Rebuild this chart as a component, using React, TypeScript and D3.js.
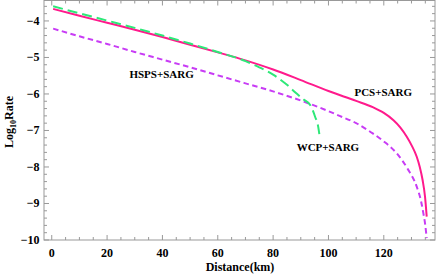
import React from "react";
import * as d3 from "d3";

const xTicks = [0, 20, 40, 60, 80, 100, 120];
const yTicks = [-10, -9, -8, -7, -6, -5, -4];

const pcsX = [0.5, 10, 20, 30, 40, 50, 60, 70, 80, 90, 100, 110, 116, 120, 123.5, 126, 128.3, 130, 131.9, 133, 134, 134.9, 135.5];
const pcsY = [-3.67, -3.86, -4.05, -4.24, -4.44, -4.65, -4.86, -5.08, -5.33, -5.62, -5.92, -6.19, -6.36, -6.52, -6.72, -6.92, -7.17, -7.4, -7.72, -8.0, -8.35, -8.82, -9.36];

const wcpX = [0.5, 10, 20, 30, 40, 50, 60, 70, 80, 90, 100, 104, 110, 116, 120, 124.7, 128.6, 131.9, 133.5, 134.3, 135, 135.5];
const wcpY = [-4.21, -4.42, -4.63, -4.85, -5.06, -5.27, -5.49, -5.71, -5.93, -6.18, -6.47, -6.6, -6.8, -7.08, -7.3, -7.63, -8.05, -8.54, -8.95, -9.27, -9.6, -9.95];

const hspsX = [0.5, 10, 20, 30, 40, 50, 60, 70, 75, 80, 85, 88.5, 91, 93.4, 95.2, 96.3, 96.7];
const hspsY = [-3.6, -3.79, -3.99, -4.19, -4.4, -4.62, -4.85, -5.1, -5.27, -5.47, -5.75, -5.99, -6.15, -6.3, -6.63, -6.9, -7.1];

const labels = [
  { text: "HSPS+SARG", x: 39.7, y: -5.5 },
  { text: "PCS+SARG", x: 119.8, y: -5.98 },
  { text: "WCP+SARG", x: 99.8, y: -7.5 },
];

const W = 436;
const H = 277;
const L = 44, R = 435, T = 0.5, B = 240;

export default function App() {
  const x = d3.scaleLinear().domain([-2.8, 138.5]).range([L, R]);
  const y = d3.scaleLinear().domain([-10, -3.44]).range([B, T]);
  const line = d3.line<[number, number]>().x(d => x(d[0])).y(d => y(d[1])).curve(d3.curveMonotoneX);
  const mk = (xs: number[], ys: number[]) => line(xs.map((v, i) => [v, ys[i]] as [number, number])) || "";

  const xMinor = d3.range(0, 136, 5).filter(v => v % 20 !== 0);
  const yMinor = d3.range(-10, -3.45, 0.2).map(v => Math.round(v * 10) / 10).filter(v => Math.abs(v - Math.round(v)) > 0.01);
  const frame = "#999999";
  const font = "'Liberation Serif', 'Times New Roman', serif";

  return (
    <svg width={W} height={H} style={{ position: "absolute", left: 0, top: 0, background: "#fff" }} fontFamily={font}>
      <defs>
        <clipPath id="clip">
          <rect x={L} y={T} width={R - L} height={B - T} />
        </clipPath>
      </defs>
      <g clipPath="url(#clip)" fill="none" strokeWidth={2}>
        <path d={mk(wcpX, wcpY)} stroke="#c83cf5" strokeDasharray="5.5,3.5" />
        <path d={mk(pcsX, pcsY)} stroke="#ff1a8c" />
        <path d={mk(hspsX, hspsY)} stroke="#2ee878" strokeDasharray="10,5" />
      </g>
      <rect x={L} y={T} width={R - L} height={B - T} fill="none" stroke={frame} strokeWidth={1} />
      <g stroke={frame} strokeWidth={1}>
        {xTicks.map(t => (
          <g key={"xt" + t}>
            <line x1={x(t)} x2={x(t)} y1={B} y2={B - 5} />
            <line x1={x(t)} x2={x(t)} y1={T} y2={T + 5} />
          </g>
        ))}
        {xMinor.map(t => (
          <g key={"xm" + t}>
            <line x1={x(t)} x2={x(t)} y1={B} y2={B - 3} />
            <line x1={x(t)} x2={x(t)} y1={T} y2={T + 3} />
          </g>
        ))}
        {yTicks.map(t => (
          <g key={"yt" + t}>
            <line x1={L} x2={L + 5} y1={y(t)} y2={y(t)} />
            <line x1={R} x2={R - 5} y1={y(t)} y2={y(t)} />
          </g>
        ))}
        {yMinor.map(t => (
          <g key={"ym" + t}>
            <line x1={L} x2={L + 3} y1={y(t)} y2={y(t)} />
            <line x1={R} x2={R - 3} y1={y(t)} y2={y(t)} />
          </g>
        ))}
      </g>
      <g fontSize={12} fontWeight="bold" fill="#000">
        {xTicks.map(t => (
          <text key={"xl" + t} x={x(t)} y={257} textAnchor="middle">{t}</text>
        ))}
        {yTicks.map(t => (
          <text key={"yl" + t} x={39.5} y={y(t) + 4} textAnchor="end">{t < 0 ? "\u2212" + Math.abs(t) : t}</text>
        ))}
        <text x={240} y={271} textAnchor="middle">Distance(km)</text>
        <text transform={`translate(13,122) rotate(-90)`} textAnchor="middle">
          Log<tspan fontSize={8} dy={3}>10</tspan><tspan dy={-3}>Rate</tspan>
        </text>
      </g>
      <g fontSize={11} fontWeight="bold" fill="#000">
        {labels.map(l => (
          <text key={l.text} x={x(l.x)} y={y(l.y)} textAnchor="middle" dominantBaseline="middle">{l.text}</text>
        ))}
      </g>
    </svg>
  );
}
